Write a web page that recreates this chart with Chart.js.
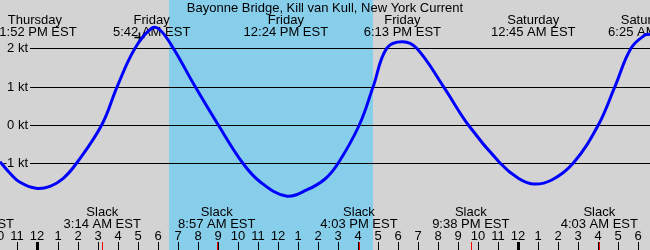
<!DOCTYPE html>
<html>
<head>
<meta charset="utf-8">
<script src="https://cdn.jsdelivr.net/npm/chart.js@4"></script>
<style>
  html, body { margin: 0; padding: 0; background: #d3d3d3; }
  #wrap { width: 650px; height: 250px; }
</style>
</head>
<body>
<div id="wrap"><canvas id="currentChart" width="650" height="250"></canvas></div>
<script>
// hours counted from Friday 00:00 EST, current in knots
const curveHours = [-1.872, -1.373, -0.873, -0.075, 0.624, 1.288, 1.957, 3.205,
    3.984, 4.868, 5.702, 6.116, 6.78, 7.863, 9.027, 10.245, 11.109, 12.407,
    13.44, 14.354, 15.018, 16.066, 16.765, 17.434, 18.233, 18.932, 20.26, 21.509,
    23.091, 24.005, 24.754, 25.673, 26.751, 27.999, 28.833, 29.632,
    30.331, 30.58];
const curveKnots = [-0.957, -1.26, -1.494, -1.651, -1.599, -1.39, -0.991, 0,
    1.009, 2.0, 2.522, 2.477, 2.0, 1.009, 0, -0.991, -1.479, -1.852,
    -1.695, -1.408, -0.991, 0, 1.009, 2.0, 2.172, 2.0, 1.009, 0,
    -0.991, -1.39, -1.539, -1.434, -0.991, 0, 1.009, 2.0,
    2.347, 2.365];

const eventHours = [-0.133, 5.7, 12.4, 18.217, 24.75, 30.417];
const eventDays = ['Thursday', 'Friday', 'Friday', 'Friday', 'Saturday', 'Saturday'];
const eventTimes = ['11:52 PM EST', '5:42 AM EST', '12:24 PM EST', '6:13 PM EST', '12:45 AM EST', '6:25 AM EST'];

const slackHours = [-3.1, 3.233, 8.95, 16.05, 21.633, 28.05];
const slackTimes = ['8:54 PM EST', '3:14 AM EST', '8:57 AM EST', '4:03 PM EST', '9:38 PM EST', '4:03 AM EST'];

const gridKnots = [2, 1, 0, -1];
const gridLabels = ['2 kt', '1 kt', '0 kt', '-1 kt'];

const hourTicks = [-2, -1, 0, 1, 2, 3, 4, 5, 6, 7, 8, 9, 10, 11, 12, 13, 14, 15, 16, 17, 18, 19, 20,
    21, 22, 23, 24, 25, 26, 27, 28, 29, 30];
const hourLabels = ['10', '11', '12', '1', '2', '3', '4', '5', '6', '7', '8', '9', '10', '11', '12',
    '1', '2', '3', '4', '5', '6', '7', '8', '9', '10', '11', '12', '1', '2', '3', '4', '5', '6'];
const midnightHours = [0, 24];

const sunrise = 6.57;
const sunset = 16.73;

const nowHour = 5.09;
const nowKnots = 2.28;

const title = 'Bayonne Bridge, Kill van Kull, New York Current';

const FONT = '13px "Liberation Sans", Arial, sans-serif';

const backdropPlugin = {
    id: 'backdrop',
    beforeDraw(c) {
        const { ctx, width, height } = c;
        const x = c.scales.x;
        ctx.save();
        ctx.fillStyle = '#d3d3d3';
        ctx.fillRect(0, 0, width, height);
        const x1 = Math.round(x.getPixelForValue(sunrise));
        const x2 = Math.round(x.getPixelForValue(sunset));
        ctx.fillStyle = '#87ceeb';
        ctx.fillRect(x1, 0, x2 - x1, height);
        ctx.restore();
    },
    beforeDatasetsDraw(c) {
        const { ctx, width } = c;
        const x = c.scales.x;
        const y = c.scales.y;
        ctx.save();

        // grid lines + kt labels
        ctx.font = FONT;
        ctx.fillStyle = '#000';
        ctx.strokeStyle = '#000';
        ctx.lineWidth = 1;
        ctx.textAlign = 'right';
        ctx.textBaseline = 'middle';
        gridKnots.forEach((k, i) => {
            const py = Math.round(y.getPixelForValue(k)) + 0.5;
            ctx.beginPath();
            ctx.moveTo(30, py);
            ctx.lineTo(width, py);
            ctx.stroke();
            ctx.fillText(gridLabels[i], 28, py);
        });

        // title + max/min labels
        ctx.textAlign = 'center';
        ctx.fillText(title, 325, 8);
        eventHours.forEach((h, i) => {
            const px = x.getPixelForValue(h);
            ctx.fillText(eventDays[i], px, 20);
            ctx.fillText(eventTimes[i], px, 32);
        });

        // slack labels
        slackHours.forEach((h, i) => {
            const px = x.getPixelForValue(h);
            ctx.fillText('Slack', px, 212);
            ctx.fillText(slackTimes[i], px, 224);
        });

        // hour axis
        hourTicks.forEach((h, i) => {
            const px = Math.round(x.getPixelForValue(h));
            ctx.fillText(hourLabels[i], px, 236);
            if (midnightHours.includes(h)) {
                ctx.fillRect(px - 1, 242, 3, 8);
            } else {
                ctx.fillRect(px, 242, 1, 8);
            }
        });
        ctx.fillStyle = '#ff0000';
        slackHours.forEach(h => {
            const px = Math.round(x.getPixelForValue(h));
            ctx.fillRect(px, 242, 1, 8);
        });
        ctx.restore();
    }
};

new Chart(document.getElementById('currentChart'), {
    type: 'line',
    data: {
        datasets: [{
            data: curveHours.map((h, i) => ({ x: h, y: curveKnots[i] })),
            borderColor: '#0000ff',
            borderWidth: 3,
            pointRadius: 0,
            tension: 0.4,
            fill: false
        }, {
            data: [{ x: nowHour, y: nowKnots }],
            showLine: false,
            pointStyle: 'cross',
            pointRadius: 5,
            borderColor: '#000',
            borderWidth: 1.5
        }]
    },
    options: {
        responsive: false,
        animation: false,
        layout: { padding: 0, autoPadding: false },
        scales: {
            x: { type: 'linear', min: -1.872, max: 30.58, display: false },
            y: { min: -3.26, max: 3.26, display: false }
        },
        plugins: {
            legend: { display: false },
            tooltip: { enabled: false }
        }
    },
    plugins: [backdropPlugin]
});
</script>
</body>
</html>
